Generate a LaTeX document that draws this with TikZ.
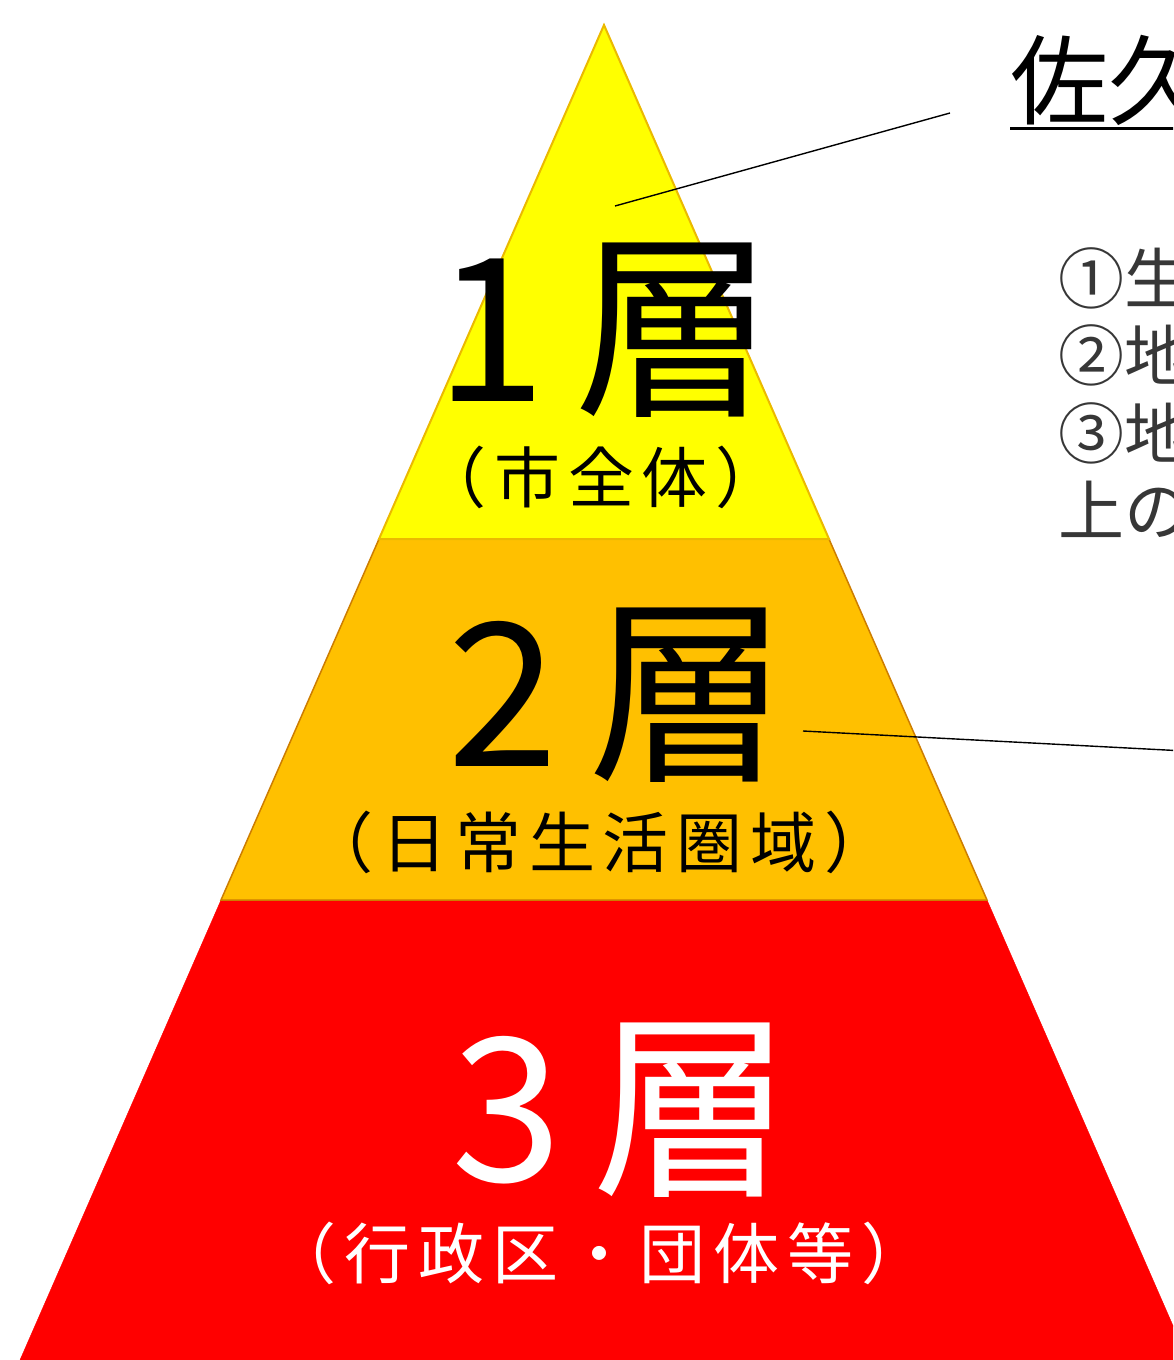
\documentclass[tikz,border=0pt]{standalone}
\usepackage{fontspec}
\newfontfamily\jp{Noto Sans CJK JP}
\newfontfamily\jpwide[LetterSpace=12]{Noto Sans CJK JP}
\usetikzlibrary{positioning, calc}
\definecolor{tierone}{RGB}{255,255,0}
\definecolor{tiertwo}{RGB}{255,192,0}
\definecolor{tierthree}{RGB}{255,0,0}
\definecolor{edgeone}{RGB}{235,185,0}
\definecolor{edgetwo}{RGB}{205,125,0}
\definecolor{notegray}{RGB}{55,55,55}

\tikzset{
  bignum/.style={font=\jp\fontsize{200}{200}\selectfont, inner sep=0pt},
  areaname/.style={font=\jpwide\fontsize{66}{66}\selectfont, inner sep=0pt},
  notetext/.style={font=\jp\fontsize{66}{66}\selectfont, text=notegray, anchor=west, inner sep=0pt},
  leader/.style={black, line width=1.4pt}
}

\begin{document}
\begin{tikzpicture}[x=1pt, y=-1pt]
    \useasboundingbox (0,0) rectangle (1173,1360);
    \clip (0,0) rectangle (1173,1360);
    % the three tiers
    \filldraw[fill=tierthree, draw=tierthree] (221,900) -- (987,900) -- (1188,1360) -- (20,1360) -- cycle;
    \filldraw[fill=tiertwo, draw=edgetwo, line width=1.5pt] (379,539) -- (829,539) -- (987,900) -- (221,900) -- cycle;
    \filldraw[fill=tierone, draw=edgeone, line width=2pt] (604,25) -- (829,539) -- (379,539) -- cycle;
    % tier labels
    \node[bignum] (L1) at (605,330) {1\hspace{28pt}層};
    \node[areaname, below=28pt of L1, xshift=-4pt] (S1) {（市全体）};
    \node[bignum] (L2) at (618,695) {2\hspace{30pt}層};
    \node[areaname, below=28pt of L2, xshift=-19pt] (S2) {（日常生活圏域）};
    \node[bignum, text=white] (L3) at (622,1110) {3\hspace{30pt}層};
    \node[areaname, text=white, below=24pt of L3, xshift=-23pt] (S3) {（行政区・団体等）};
    % notes on the right
    \node[font=\jp\fontsize{98}{98}\selectfont, anchor=west, inner sep=0pt] (H) at (1010,80) {佐久};
    \draw[line width=2.5pt] ($(H.south west)+(0,3)$) -- ++(220,0);
    \node[notetext] (N0) at (1058,278) {①生};
    \foreach \x/\n/\t in {1/0/②地,2/1/③地,3/2/上の} {
      \node[notetext, below=16pt of N\n.south west, anchor=north west] (N\x) {\t};
    }
    % leader lines
    \coordinate (a1) at (615,206);
    \coordinate (a2) at (950,113);
    \coordinate (b1) at (803,731);
    \coordinate (b2) at (1185,751);
    \draw[leader] (a1) -- (a2);
    \draw[leader] (b1) -- (b2);
\end{tikzpicture}
\end{document}
